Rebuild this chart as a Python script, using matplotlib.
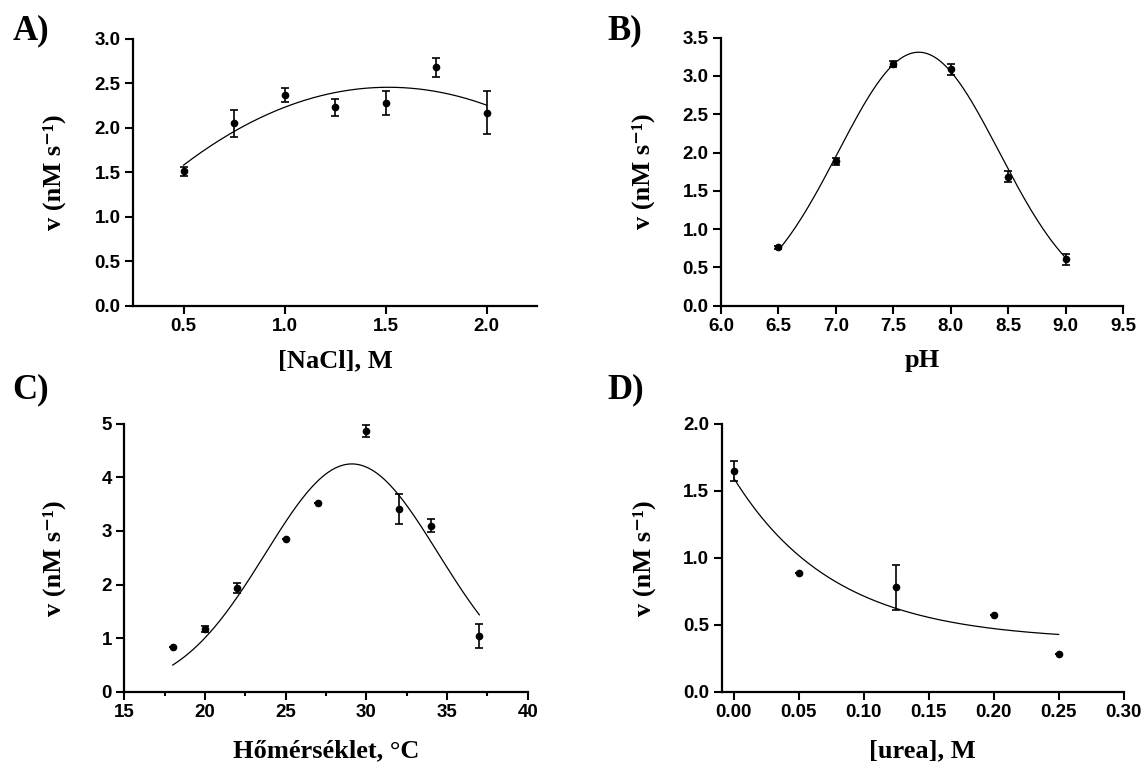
import numpy as np
import matplotlib
matplotlib.use("Agg")
import matplotlib.pyplot as plt
from matplotlib.ticker import MultipleLocator, FormatStrFormatter

plt.rcParams['font.family'] = ['Liberation Sans', 'DejaVu Sans']

# --- data ---
# A) NaCl
nacl_x = [0.5, 0.75, 1.0, 1.25, 1.5, 1.75, 2.0]
nacl_v = [1.51, 2.05, 2.37, 2.23, 2.28, 2.68, 2.17]
nacl_err = [0.055, 0.155, 0.08, 0.095, 0.13, 0.105, 0.24]

# B) pH
ph_x = [6.5, 7.0, 7.5, 8.0, 8.5, 9.0]
ph_v = [0.76, 1.885, 3.155, 3.085, 1.685, 0.605]
ph_err = [0.02, 0.05, 0.04, 0.07, 0.07, 0.07]
ph_fit = dict(amp=3.31, center=7.72, sigma=0.70)

# C) temperature
temp_x = [18, 20, 22, 25, 27, 30, 32, 34, 37]
temp_v = [0.83, 1.17, 1.94, 2.85, 3.52, 4.86, 3.41, 3.10, 1.04]
temp_err = [0, 0.05, 0.09, 0, 0, 0.11, 0.285, 0.12, 0.227]
temp_fit = dict(amp=4.25, center=29.1, sigma=5.36)

# D) urea
urea_x = [0.0, 0.05, 0.125, 0.2, 0.25]
urea_v = [1.647, 0.884, 0.778, 0.569, 0.281]
urea_err = [0.078, 0, 0.166, 0, 0]
urea_fit = dict(plateau=0.379, span=1.216, k=12.9)

YLABEL = 'v (nM s\u207b\u00b9)'
serif_bold = dict(family=['Liberation Serif', 'DejaVu Serif'], fontweight='bold')
LABEL_SIZE = 19
TICK_SIZE = 13.5

fig = plt.figure(figsize=(11.46, 7.64), dpi=100)

axA = fig.add_axes([0.1161, 0.5999, 0.3525, 0.3491])
axB = fig.add_axes([0.6291, 0.5999, 0.3511, 0.3508])
axC = fig.add_axes([0.1085, 0.0946, 0.3520, 0.3508])
axD = fig.add_axes([0.6298, 0.0946, 0.3507, 0.3508])


def style(ax, ylab_x):
    for s in ['top', 'right']:
        ax.spines[s].set_visible(False)
    for s in ['left', 'bottom']:
        ax.spines[s].set_linewidth(1.6)
    ax.tick_params(which='major', direction='out', length=6, width=1.5,
                   labelsize=TICK_SIZE, pad=3)
    ax.tick_params(which='minor', direction='out', length=3, width=1.5)
    for lab in ax.get_xticklabels() + ax.get_yticklabels():
        lab.set_fontweight('bold')
    ax.set_ylabel(YLABEL, fontsize=LABEL_SIZE, **serif_bold)
    ax.yaxis.set_label_coords(ylab_x, 0.5)


def points(ax, x, y, err):
    ax.errorbar(x, y, yerr=err, fmt='o', color='black', ms=4.5,
                elinewidth=1.2, capsize=3.2, capthick=1.2, zorder=3)


# A) NaCl, second order polynomial fit
points(axA, nacl_x, nacl_v, nacl_err)
coef = np.polyfit(nacl_x, nacl_v, 2)
xx = np.linspace(min(nacl_x), max(nacl_x), 200)
axA.plot(xx, np.polyval(coef, xx), color='black', lw=0.9)
axA.set_xlim(0.25, 2.25)
axA.set_ylim(0, 3.0)
axA.set_xticks([0.5, 1.0, 1.5, 2.0])
axA.yaxis.set_major_locator(MultipleLocator(0.5))
axA.xaxis.set_major_formatter(FormatStrFormatter('%.1f'))
axA.yaxis.set_major_formatter(FormatStrFormatter('%.1f'))
axA.set_xlabel('[NaCl], M', fontsize=LABEL_SIZE, labelpad=10, **serif_bold)
style(axA, -0.166)

# B) pH, gaussian fit
points(axB, ph_x, ph_v, ph_err)
xx = np.linspace(min(ph_x), max(ph_x), 200)
axB.plot(xx, ph_fit['amp'] * np.exp(-(xx - ph_fit['center']) ** 2 / (2 * ph_fit['sigma'] ** 2)),
         color='black', lw=0.9)
axB.set_xlim(6.0, 9.5)
axB.set_ylim(0, 3.5)
axB.xaxis.set_major_locator(MultipleLocator(0.5))
axB.yaxis.set_major_locator(MultipleLocator(0.5))
axB.xaxis.set_major_formatter(FormatStrFormatter('%.1f'))
axB.yaxis.set_major_formatter(FormatStrFormatter('%.1f'))
axB.set_xlabel('pH', fontsize=LABEL_SIZE, labelpad=10, **serif_bold)
style(axB, -0.164)

# C) temperature, gaussian fit
points(axC, temp_x, temp_v, temp_err)
xx = np.linspace(min(temp_x), max(temp_x), 200)
axC.plot(xx, temp_fit['amp'] * np.exp(-(xx - temp_fit['center']) ** 2 / (2 * temp_fit['sigma'] ** 2)),
         color='black', lw=0.9)
axC.set_xlim(15, 40)
axC.set_ylim(0, 5)
axC.xaxis.set_major_locator(MultipleLocator(5))
axC.xaxis.set_minor_locator(MultipleLocator(2.5))
axC.yaxis.set_major_locator(MultipleLocator(1))
axC.set_xlabel('Hőmérséklet, °C', fontsize=LABEL_SIZE, labelpad=13, **serif_bold)
style(axC, -0.145)

# D) urea, one phase decay fit
points(axD, urea_x, urea_v, urea_err)
xx = np.linspace(min(urea_x), max(urea_x), 200)
axD.plot(xx, urea_fit['plateau'] + urea_fit['span'] * np.exp(-urea_fit['k'] * xx),
         color='black', lw=0.9)
axD.set_xlim(-0.0092, 0.30)
axD.set_ylim(0, 2.0)
axD.set_xticks([0.0, 0.05, 0.10, 0.15, 0.20, 0.25, 0.30])
axD.yaxis.set_major_locator(MultipleLocator(0.5))
axD.xaxis.set_major_formatter(FormatStrFormatter('%.2f'))
axD.yaxis.set_major_formatter(FormatStrFormatter('%.1f'))
axD.set_xlabel('[urea], M', fontsize=LABEL_SIZE, labelpad=13, **serif_bold)
style(axD, -0.164)

# panel letters
for lbl, x, y in [('A)', 0.011, 0.949), ('B)', 0.530, 0.949),
                  ('C)', 0.011, 0.479), ('D)', 0.530, 0.479)]:
    fig.text(x, y, lbl, fontsize=25, ha='left', va='baseline', **serif_bold)

fig.savefig('out.png', dpi=100)
